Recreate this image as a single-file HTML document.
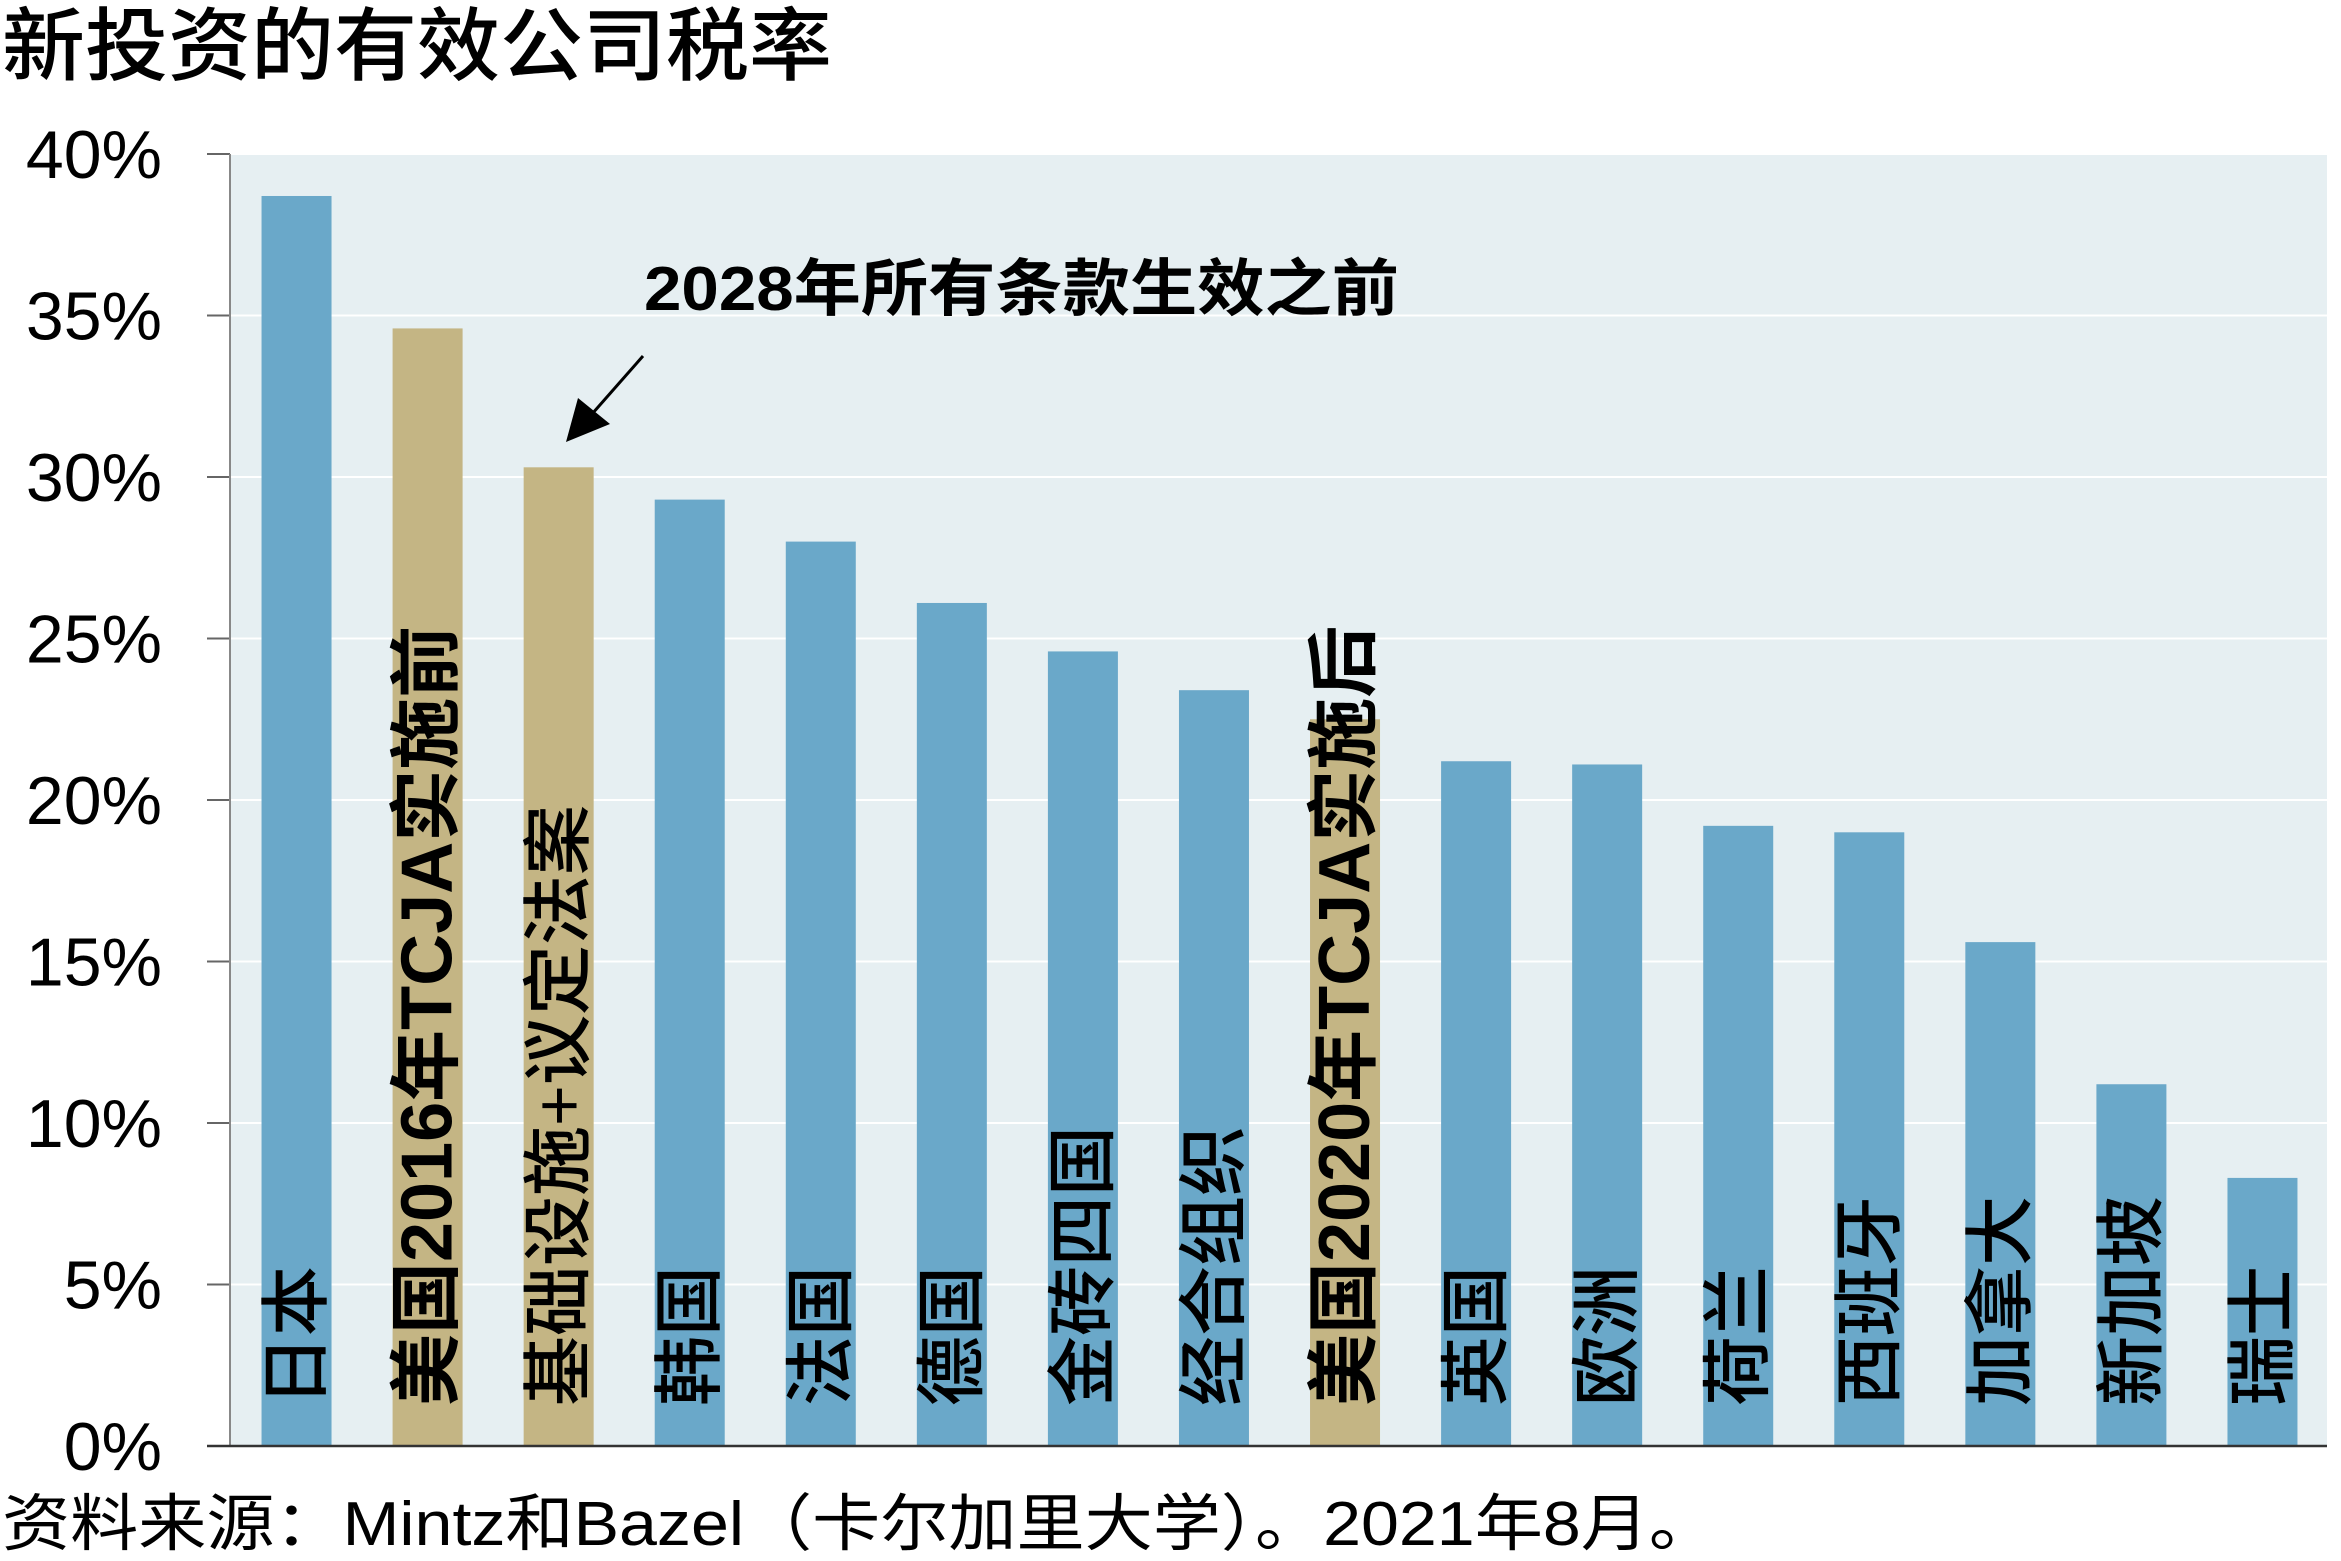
<!DOCTYPE html>
<html><head><meta charset="utf-8">
<style>
html,body{margin:0;padding:0;background:#fff;}
svg{display:block;font-family:"Liberation Sans","Noto Sans CJK SC",sans-serif;}
</style></head>
<body>
<svg id="chart" width="2341" height="1561" viewBox="0 0 2341 1561" xmlns="http://www.w3.org/2000/svg">
<text x="2" y="74" font-size="80" font-weight="500" textLength="830" lengthAdjust="spacingAndGlyphs">新投资的有效公司税率</text>
<rect x="230" y="154" width="2097" height="1292" fill="#e6eff2"/>
<g id="grid"></g>
<g id="bars"></g>
<g id="labels"></g>
<line x1="230" y1="154" x2="230" y2="1446" stroke="#888" stroke-width="2"/>
<line x1="207" y1="1446" x2="2327" y2="1446" stroke="#333" stroke-width="2.5"/>
<g id="annotation">
<text x="644" y="310" font-size="62" font-weight="bold" textLength="755" lengthAdjust="spacingAndGlyphs">2028年所有条款生效之前</text>
<line x1="643" y1="356" x2="592" y2="414" stroke="#000" stroke-width="3"/>
<polygon points="566,442 578,398 610,424" fill="#000"/>
</g>
<text x="2" y="1545" font-size="62" textLength="1715" lengthAdjust="spacingAndGlyphs">资料来源：Mintz和Bazel（卡尔加里大学）。2021年8月。</text>
</svg>
<script>
const categories = ["日本","美国2016年TCJA实施前","基础设施+议定法案","韩国","法国","德国","金砖四国","经合组织","美国2020年TCJA实施后","英国","欧洲","荷兰","西班牙","加拿大","新加坡","瑞士"];
const values = [38.7,34.6,30.3,29.3,28.0,26.1,24.6,23.4,22.5,21.2,21.1,19.2,19.0,15.6,11.2,8.3];
const highlighted = [false,true,true,false,false,false,false,false,true,false,false,false,false,false,false,false];
const yTicks = [0,5,10,15,20,25,30,35,40];
const yTickLabels = ["0%","5%","10%","15%","20%","25%","30%","35%","40%"];

const NS = "http://www.w3.org/2000/svg";
const X0 = 230, X1 = 2327, Y0 = 1446, Y1 = 154, YMAX = 40;
const band = (X1 - X0) / categories.length;
const yScale = v => Y0 - (v / YMAX) * (Y0 - Y1);
const xBand = i => X0 + i * band;
function mk(tag, attrs) { const e = document.createElementNS(NS, tag); for (const k in attrs) e.setAttribute(k, attrs[k]); return e; }

const grid = document.getElementById('grid');
yTicks.forEach((t, i) => {
  const y = yScale(t);
  if (t > 0) {
    const g = mk('line', {x1: X0, x2: X1, y1: y, y2: y, stroke: '#ffffff', 'stroke-width': 2});
    
    
    grid.appendChild(g);
  }
  const tk = mk('line', {x1: 207, x2: X0, y1: y, y2: y, stroke: '#666', 'stroke-width': 2});
  
  
  grid.appendChild(tk);
  const lb = mk('text', {x: 162, y: y + 24, 'font-size': 68, 'text-anchor': 'end'});
  
  
  lb.textContent = yTickLabels[i];
  grid.appendChild(lb);
});

const bars = document.getElementById('bars');
const labels = document.getElementById('labels');
const bw = 70;
categories.forEach((c, i) => {
  const x = xBand(i) + (band - bw) / 2 + 1;
  const y = yScale(values[i]);
  const r = mk('rect', {x: x, y: y, width: bw, height: Y0 - y, fill: highlighted[i] ? '#c4b584' : '#6aa8c9'});
  
  
  bars.appendChild(r);
  const cx = x + bw / 2 + 24;
  const isT = c.indexOf('TCJA') >= 0;
  const t = mk('text', {x: 0, y: 0, 'font-size': isT ? 72 : 70, 'font-weight': isT ? 'bold' : '500',
    transform: 'translate(' + cx + ',1406) rotate(-90)'});
  
  
  t.textContent = c;
  labels.appendChild(t);
});
</script>
</body></html>
